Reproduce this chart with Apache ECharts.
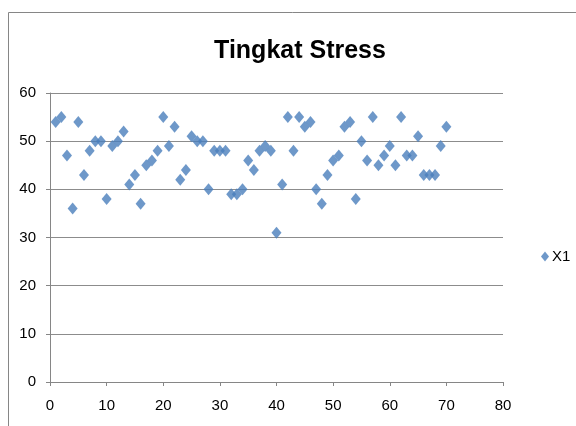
<!DOCTYPE html>
<html>
<head>
<meta charset="utf-8">
<script src="https://cdn.jsdelivr.net/npm/echarts@6/dist/echarts.min.js"></script>
<style>
  html, body { margin: 0; padding: 0; background: #fff; }
  #chart { width: 576px; height: 426px; }
</style>
</head>
<body>
<div id="chart"></div>
<script>
// Respondent number (x) and stress score (y)
const respondent = [
  1, 2, 3, 4, 5, 6, 7, 8, 9, 10,
  11, 12, 13, 14, 15, 16, 17, 18, 19, 20,
  21, 22, 23, 24, 25, 26, 27, 28, 29, 30,
  31, 32, 33, 34, 35, 36, 37, 38, 39, 40,
  41, 42, 43, 44, 45, 46, 47, 48, 49, 50,
  51, 52, 53, 54, 55, 56, 57, 58, 59, 60,
  61, 62, 63, 64, 65, 66, 67, 68, 69, 70
];
const stressX1 = [
  54, 55, 47, 36, 54, 43, 48, 50, 50, 38,
  49, 50, 52, 41, 43, 37, 45, 46, 48, 55,
  49, 53, 42, 44, 51, 50, 50, 40, 48, 48,
  48, 39, 39, 40, 46, 44, 48, 49, 48, 31,
  41, 55, 48, 55, 53, 54, 40, 37, 43, 46,
  47, 53, 54, 38, 50, 46, 55, 45, 47, 49,
  45, 55, 47, 47, 51, 43, 43, 43, 49, 53
];
const seriesName = 'X1';
const chartTitle = 'Tingkat Stress';

const points = respondent.map((x, i) => [x, stressX1[i]]);

const font = '"Liberation Sans Narrow", "Liberation Sans", Arial, sans-serif';
const chart = echarts.init(document.getElementById('chart'), null, { renderer: 'canvas' });

chart.setOption({
  animation: false,
  backgroundColor: '#ffffff',
  title: {
    text: chartTitle,
    left: 295,
    top: 34,
    textAlign: 'center',
    textStyle: { fontFamily: font, fontWeight: 'bold', fontSize: 25, color: '#000' }
  },
  graphic: [{
    type: 'rect',
    shape: { x: 8.5, y: 12.5, width: 620, height: 500 },
    style: { fill: 'none', stroke: '#868686', lineWidth: 1 },
    silent: true,
    z: -1
  }],
  legend: {
    data: [{ name: seriesName, icon: 'diamond' }],
    left: 536,
    top: 244,
    itemWidth: 8,
    itemHeight: 10,
    itemGap: 4,
    textStyle: { fontFamily: font, fontSize: 15, color: '#000', padding: [0, 0, 0, -2] }
  },
  grid: { left: 50, top: 93, width: 453, height: 289 },
  xAxis: {
    type: 'value',
    min: 0, max: 80, interval: 10,
    axisLine: { show: true, lineStyle: { color: '#868686', width: 1 } },
    axisTick: { show: true, length: 4, lineStyle: { color: '#868686' } },
    axisLabel: { fontFamily: font, fontSize: 15, color: '#000', margin: 16 },
    splitLine: { show: false }
  },
  yAxis: {
    type: 'value',
    min: 0, max: 60, interval: 10,
    axisLine: { show: true, lineStyle: { color: '#868686', width: 1 } },
    axisTick: { show: true, length: 4, lineStyle: { color: '#868686' } },
    axisLabel: { fontFamily: font, fontSize: 15, color: '#000', margin: 14 },
    splitLine: { show: true, lineStyle: { color: '#8c8c8c', width: 1 } }
  },
  series: [{
    name: seriesName,
    type: 'scatter',
    data: points,
    symbol: 'diamond',
    symbolSize: [10, 12],
    itemStyle: { color: '#4A7EBB' }
  }]
});
</script>
</body>
</html>
